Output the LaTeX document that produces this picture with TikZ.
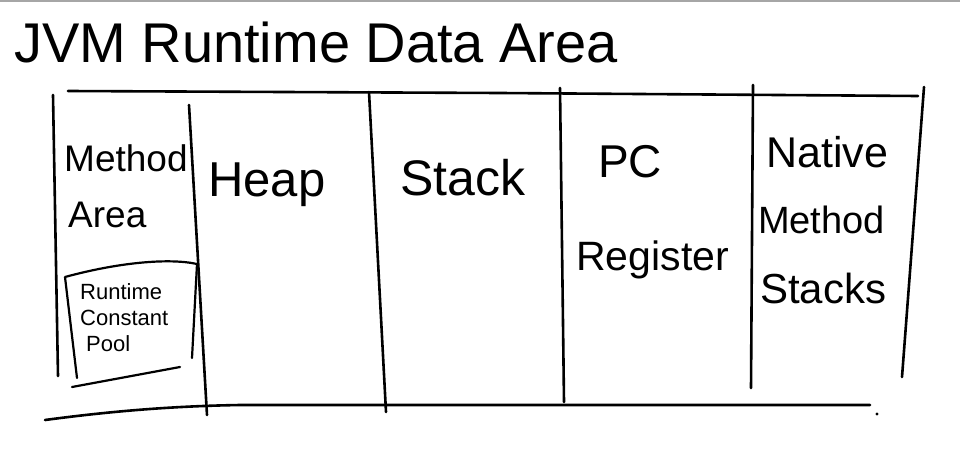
\documentclass[tikz,border=0pt]{standalone}
\usepackage{fontspec}
\setmainfont{Liberation Sans}
\begin{document}
\begin{tikzpicture}[x=1pt,y=-1pt,
  stroke/.style={line width=2.6pt,line cap=round,line join=round,black},
  thin stroke/.style={line width=2.2pt,line cap=round,line join=round,black},
  lbl/.style={inner sep=0pt,anchor=west,font=\fontsize{44}{48}\selectfont},
  small/.style={inner sep=0pt,anchor=west,font=\fontsize{22}{24}\selectfont}]
\useasboundingbox[fill=white] (0,0) rectangle (960,452);
\draw[gray!70,line width=2pt] (0,1) -- (960,1);
% title
\node[inner sep=0pt,anchor=west,font=\fontsize{56}{60}\selectfont] (title) at (14,42) {JVM Runtime Data Area};
% frame
\draw[stroke] (68,91) -- (500,93) -- (918,96);
\draw[stroke] (45,420) .. controls (120,410) and (180,406) .. (240,405) -- (870,405);
\fill (877,414) circle (1.6);
\draw[stroke] (53,95) -- (58,376);
\draw[stroke] (189,105) -- (207,415);
\draw[stroke] (369,92) -- (386,412);
\draw[stroke] (560,88) -- (564,402);
\draw[stroke] (753,85) -- (751,388);
\draw[stroke] (924,87) -- (902,377);
% runtime constant pool box
\draw[thin stroke] (77,378) -- (65,277) .. controls (120,262) and (170,258) .. (197,264) -- (192,358);
\draw[thin stroke] (72,387) -- (180,367);
% labels
\node[lbl,font=\fontsize{37}{40}\selectfont] (m1) at (64,158) {Method};
\node[lbl,font=\fontsize{37}{40}\selectfont] (m2) at (68,215) {Area};
\node[small] (r1) at (80,292) {Runtime};
\node[small] (r2) at (80,318) {Constant};
\node[small] (r3) at (86,344) {Pool};
\node[lbl,font=\fontsize{49}{52}\selectfont] (heap) at (208,185) {Heap};
\node[lbl,font=\fontsize{50}{54}\selectfont] (stack) at (400,178) {Stack};
\node[lbl,font=\fontsize{46}{50}\selectfont] (pc1) at (598,162) {PC};
\node[lbl,font=\fontsize{41}{44}\selectfont] (pc2) at (576,260) {Register};
\node[lbl,font=\fontsize{43}{46}\selectfont] (n1) at (766,152) {Native};
\node[lbl,font=\fontsize{38}{42}\selectfont] (n2) at (758,220) {Method};
\node[lbl,font=\fontsize{42}{46}\selectfont] (n3) at (760,288) {Stacks};
\end{tikzpicture}
\end{document}
